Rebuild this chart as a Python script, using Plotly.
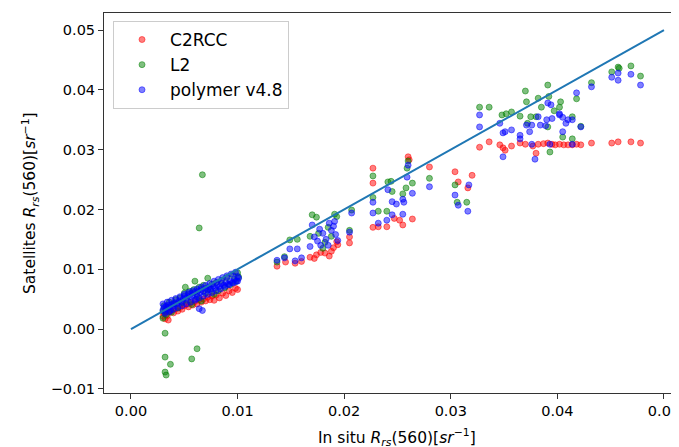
import plotly.graph_objects as go

# ---------------- data ----------------
# C2RCC
c2rcc_band_x = [0.0030,0.0031,0.0032,0.0033,0.0034,0.0035,0.0036,0.0038,0.0040,0.0042,0.0044,0.0046,0.0048,0.0050,0.0052,0.0054,0.0056,0.0058,0.0060,0.0062,0.0064,0.0066,0.0068,0.0070,0.0072,0.0074,0.0076,0.0078,0.0080,0.0083,0.0086,0.0089,0.0092,0.0095,0.0098,0.0100]
c2rcc_band_y = [0.0021,0.0026,0.0017,0.0030,0.0022,0.0015,0.0028,0.0031,0.0027,0.0034,0.0030,0.0036,0.0033,0.0039,0.0041,0.0037,0.0044,0.0040,0.0046,0.0042,0.0049,0.0045,0.0050,0.0047,0.0053,0.0049,0.0055,0.0048,0.0057,0.0052,0.0060,0.0056,0.0064,0.0061,0.0068,0.0066]
c2rcc_mid_x = [0.0137,0.0145,0.0154,0.0160,0.0168,0.0172,0.0174,0.0178,0.0182,0.0186,0.0188,0.0190,0.0193,0.0194,0.0205,0.0205]
c2rcc_mid_y = [0.0105,0.0112,0.0110,0.0113,0.0120,0.0118,0.0124,0.0128,0.0127,0.0122,0.0130,0.0136,0.0146,0.0141,0.0154,0.0144]
c2rcc_upper_x = [0.0227,0.0227,0.0227,0.0232,0.0240,0.0247,0.0252,0.0255,0.0264,0.0260,0.0261,0.0280,0.0304,0.0307,0.0316,0.0320]
c2rcc_upper_y = [0.0269,0.0244,0.0170,0.0171,0.0171,0.0185,0.0182,0.0174,0.0184,0.0288,0.0283,0.0271,0.0263,0.0246,0.0236,0.0257]
c2rcc_top_x = [0.0327,0.0336,0.0346,0.0349,0.0351,0.0357,0.0365,0.0370,0.0377,0.0380,0.0382,0.0387,0.0391,0.0395,0.0398,0.0402,0.0406,0.0410,0.0414,0.0418,0.0422,0.0432,0.0451,0.0457,0.0469,0.0478]
c2rcc_top_y = [0.0304,0.0313,0.0308,0.0303,0.0299,0.0306,0.0311,0.0309,0.0306,0.0294,0.0309,0.0310,0.0311,0.0309,0.0308,0.0309,0.0308,0.0308,0.0308,0.0309,0.0308,0.0311,0.0311,0.0313,0.0313,0.0311]

# L2
l2_band_x = [0.0030,0.0030,0.0031,0.0033,0.0034,0.0036,0.0038,0.0040,0.0042,0.0044,0.0046,0.0048,0.0050,0.0051,0.0053,0.0055,0.0057,0.0059,0.0060,0.0062,0.0064,0.0066,0.0068,0.0070,0.0072,0.0074,0.0076,0.0078,0.0080,0.0082,0.0085,0.0088,0.0090,0.0093,0.0096,0.0098,0.0100,0.0101]
l2_band_y = [0.0030,0.0018,0.0039,0.0024,0.0036,0.0045,0.0028,0.0042,0.0049,0.0035,0.0052,0.0044,0.0060,0.0070,0.0048,0.0063,0.0041,0.0066,0.0080,0.0054,0.0070,0.0047,0.0073,0.0060,0.0085,0.0066,0.0075,0.0058,0.0078,0.0064,0.0081,0.0069,0.0086,0.0074,0.0089,0.0079,0.0094,0.0087]
l2_outlier_x = [0.0032,0.0032,0.0037,0.0032,0.0033,0.0062,0.0057,0.0067,0.0064]
l2_outlier_y = [-0.0007,-0.0047,-0.0059,-0.0072,-0.0077,-0.0033,-0.0050,0.0258,0.0169]
l2_mid_x = [0.0137,0.0144,0.0149,0.0156,0.0170,0.0174,0.0168,0.0176,0.0182,0.0185,0.0191,0.0193,0.0188,0.0207,0.0205,0.0180]
l2_mid_y = [0.0112,0.0121,0.0149,0.0150,0.0191,0.0187,0.0155,0.0160,0.0145,0.0170,0.0192,0.0188,0.0155,0.0199,0.0165,0.0135]
l2_upper_x = [0.0227,0.0227,0.0232,0.0240,0.0241,0.0244,0.0245,0.0255,0.0258,0.0260,0.0259,0.0264,0.0280,0.0304,0.0306,0.0315]
l2_upper_y = [0.0256,0.0220,0.0197,0.0197,0.0246,0.0247,0.0230,0.0226,0.0236,0.0281,0.0269,0.0244,0.0252,0.0241,0.0212,0.0212]
l2_top_x = [0.0327,0.0336,0.0348,0.0352,0.0357,0.0370,0.0371,0.0365,0.0375,0.0380,0.0372,0.0391,0.0382,0.0392,0.0385,0.0397,0.0391,0.0393,0.0402,0.0405,0.0403,0.0414,0.0414,0.0418,0.0422,0.0432,0.0451,0.0457,0.0458,0.0469,0.0478]
l2_top_y = [0.0371,0.0371,0.0358,0.0360,0.0363,0.0398,0.0380,0.0356,0.0355,0.0355,0.0344,0.0408,0.0386,0.0389,0.0371,0.0365,0.0338,0.0296,0.0371,0.0321,0.0380,0.0355,0.0318,0.0385,0.0339,0.0412,0.0430,0.0438,0.0436,0.0440,0.0423]

# polymer v4.8
poly_band_x = [0.0030,0.0031,0.0032,0.0033,0.0034,0.0035,0.0036,0.0037,0.0038,0.0040,0.0041,0.0043,0.0045,0.0047,0.0049,0.0050,0.0052,0.0054,0.0055,0.0057,0.0058,0.0060,0.0061,0.0062,0.0063,0.0064,0.0065,0.0066,0.0067,0.0068,0.0070,0.0072,0.0073,0.0075,0.0077,0.0079,0.0081,0.0083,0.0085,0.0087,0.0089,0.0091,0.0093,0.0095,0.0097,0.0099,0.0100,0.0101]
poly_band_y = [0.0032,0.0036,0.0029,0.0038,0.0034,0.0040,0.0037,0.0031,0.0041,0.0038,0.0044,0.0042,0.0047,0.0045,0.0050,0.0055,0.0052,0.0058,0.0054,0.0060,0.0056,0.0062,0.0050,0.0058,0.0064,0.0034,0.0061,0.0066,0.0031,0.0063,0.0068,0.0065,0.0070,0.0067,0.0072,0.0069,0.0074,0.0071,0.0076,0.0073,0.0078,0.0075,0.0080,0.0078,0.0083,0.0080,0.0088,0.0085]
poly_band2_x = [0.0030,0.0032,0.0034,0.0036,0.0038,0.0040,0.0042,0.0044,0.0046,0.0048,0.0050,0.0052,0.0054,0.0056,0.0058,0.0060,0.0062,0.0064,0.0066,0.0068,0.0070,0.0072,0.0074,0.0076,0.0078,0.0080,0.0082,0.0084,0.0086,0.0088,0.0090,0.0092,0.0094,0.0096,0.0098,0.0100]
poly_band2_y = [0.0042,0.0026,0.0045,0.0029,0.0048,0.0033,0.0051,0.0036,0.0054,0.0039,0.0058,0.0042,0.0061,0.0045,0.0064,0.0048,0.0067,0.0052,0.0070,0.0055,0.0073,0.0058,0.0076,0.0061,0.0080,0.0064,0.0083,0.0067,0.0086,0.0071,0.0089,0.0074,0.0092,0.0077,0.0095,0.0080]
poly_mid_x = [0.0137,0.0144,0.0154,0.0160,0.0149,0.0156,0.0170,0.0177,0.0172,0.0175,0.0180,0.0183,0.0186,0.0188,0.0190,0.0191,0.0192,0.0194,0.0185,0.0178,0.0205,0.0207,0.0168]
poly_mid_y = [0.0115,0.0119,0.0114,0.0119,0.0134,0.0134,0.0174,0.0167,0.0154,0.0147,0.0160,0.0150,0.0177,0.0165,0.0172,0.0180,0.0158,0.0148,0.0140,0.0140,0.0162,0.0194,0.0138]
poly_upper_x = [0.0227,0.0227,0.0232,0.0240,0.0241,0.0245,0.0249,0.0255,0.0256,0.0245,0.0255,0.0260,0.0259,0.0264,0.0280,0.0304,0.0307,0.0316,0.0317]
poly_upper_y = [0.0212,0.0194,0.0177,0.0182,0.0233,0.0213,0.0209,0.0217,0.0212,0.0191,0.0192,0.0274,0.0254,0.0227,0.0238,0.0224,0.0207,0.0197,0.0241]
poly_top_x = [0.0327,0.0327,0.0346,0.0349,0.0351,0.0349,0.0357,0.0365,0.0365,0.0371,0.0374,0.0376,0.0379,0.0376,0.0391,0.0394,0.0382,0.0390,0.0395,0.0384,0.0389,0.0393,0.0402,0.0405,0.0408,0.0405,0.0402,0.0410,0.0414,0.0418,0.0422,0.0414,0.0432,0.0451,0.0457,0.0457,0.0469,0.0478]
poly_top_y = [0.0358,0.0338,0.0344,0.0328,0.0330,0.0288,0.0333,0.0324,0.0318,0.0341,0.0330,0.0341,0.0284,0.0309,0.0378,0.0375,0.0355,0.0350,0.0352,0.0341,0.0340,0.0309,0.0360,0.0354,0.0344,0.0330,0.0358,0.0350,0.0350,0.0395,0.0338,0.0309,0.0405,0.0421,0.0428,0.0416,0.0426,0.0408]

one_to_one = [0.0, 0.05]
tick_vals = [0.00, 0.01, 0.02, 0.03, 0.04, 0.05]
y_tick_vals = [-0.01, 0.00, 0.01, 0.02, 0.03, 0.04, 0.05]

series = [
    ("C2RCC", c2rcc_band_x + c2rcc_mid_x + c2rcc_upper_x + c2rcc_top_x,
     c2rcc_band_y + c2rcc_mid_y + c2rcc_upper_y + c2rcc_top_y, "255,0,0"),
    ("L2", l2_band_x + l2_outlier_x + l2_mid_x + l2_upper_x + l2_top_x,
     l2_band_y + l2_outlier_y + l2_mid_y + l2_upper_y + l2_top_y, "0,128,0"),
    ("polymer v4.8", poly_band_x + poly_band2_x + poly_mid_x + poly_upper_x + poly_top_x,
     poly_band_y + poly_band2_y + poly_mid_y + poly_upper_y + poly_top_y, "0,0,255"),
]

FONT = "DejaVu Sans"
fig = go.Figure()
for i, (name, xs, ys, rgb) in enumerate(series):
    fig.add_trace(go.Scatter(
        x=xs, y=ys, mode="markers", name=name, legendgroup=f"g{i}",
        marker=dict(size=6, color=f"rgba({rgb},0.5)",
                    line=dict(width=1, color=f"rgba({rgb},0.5)")),
    ))

fig.add_trace(go.Scatter(x=one_to_one, y=one_to_one, mode="lines",
                         line=dict(color="#1f77b4", width=2), showlegend=False))

x_title = "In situ <i>R</i><sub><i>rs</i></sub>(560)[<i>sr</i><sup>−1</sup>]"
y_title = "Satellites <i>R</i><sub><i>rs</i></sub>(560)[<i>sr</i><sup>−1</sup>]"

# the page body adds an 8px margin, so the figure is 8px smaller on each axis
fig.update_layout(
    width=671, height=439, autosize=False,
    margin=dict(l=96, r=0, t=5, b=54),
    paper_bgcolor="white", plot_bgcolor="white",
    font=dict(family=FONT, size=14.5, color="#000"),
    legend=dict(x=0.0157, y=0.979, xanchor="left", yanchor="top",
                bgcolor="rgba(255,255,255,0.8)", bordercolor="#cccccc", borderwidth=1,
                font=dict(size=17), tracegroupgap=0, itemwidth=46),
    xaxis=dict(range=[-0.00253, 0.05141], tickvals=tick_vals,
               ticktext=[f"{v:.2f}" for v in tick_vals],
               showline=True, linecolor="#333", linewidth=1, mirror=True,
               ticks="outside", ticklen=5, tickcolor="#333",
               showgrid=False, zeroline=False, automargin=False,
               ticklabeloverflow="allow"),
    yaxis=dict(range=[-0.0107, 0.05285], tickvals=y_tick_vals,
               ticktext=[f"{v:.2f}".replace("-", "−") for v in y_tick_vals],
               showline=True, linecolor="#333", linewidth=1, mirror=False,
               ticks="outside", ticklen=5, tickcolor="#333",
               showgrid=False, zeroline=False, automargin=False),
    annotations=[
        dict(text=x_title, xref="paper", yref="paper", x=0.51, y=-0.1158,
             xanchor="center", yanchor="middle", showarrow=False,
             font=dict(size=15.5)),
        dict(text=y_title, xref="paper", yref="paper", x=-0.1287, y=0.5,
             xanchor="center", yanchor="middle", showarrow=False, textangle=-90,
             font=dict(size=15.5)),
    ],
)

fig.write_html("out.html")
